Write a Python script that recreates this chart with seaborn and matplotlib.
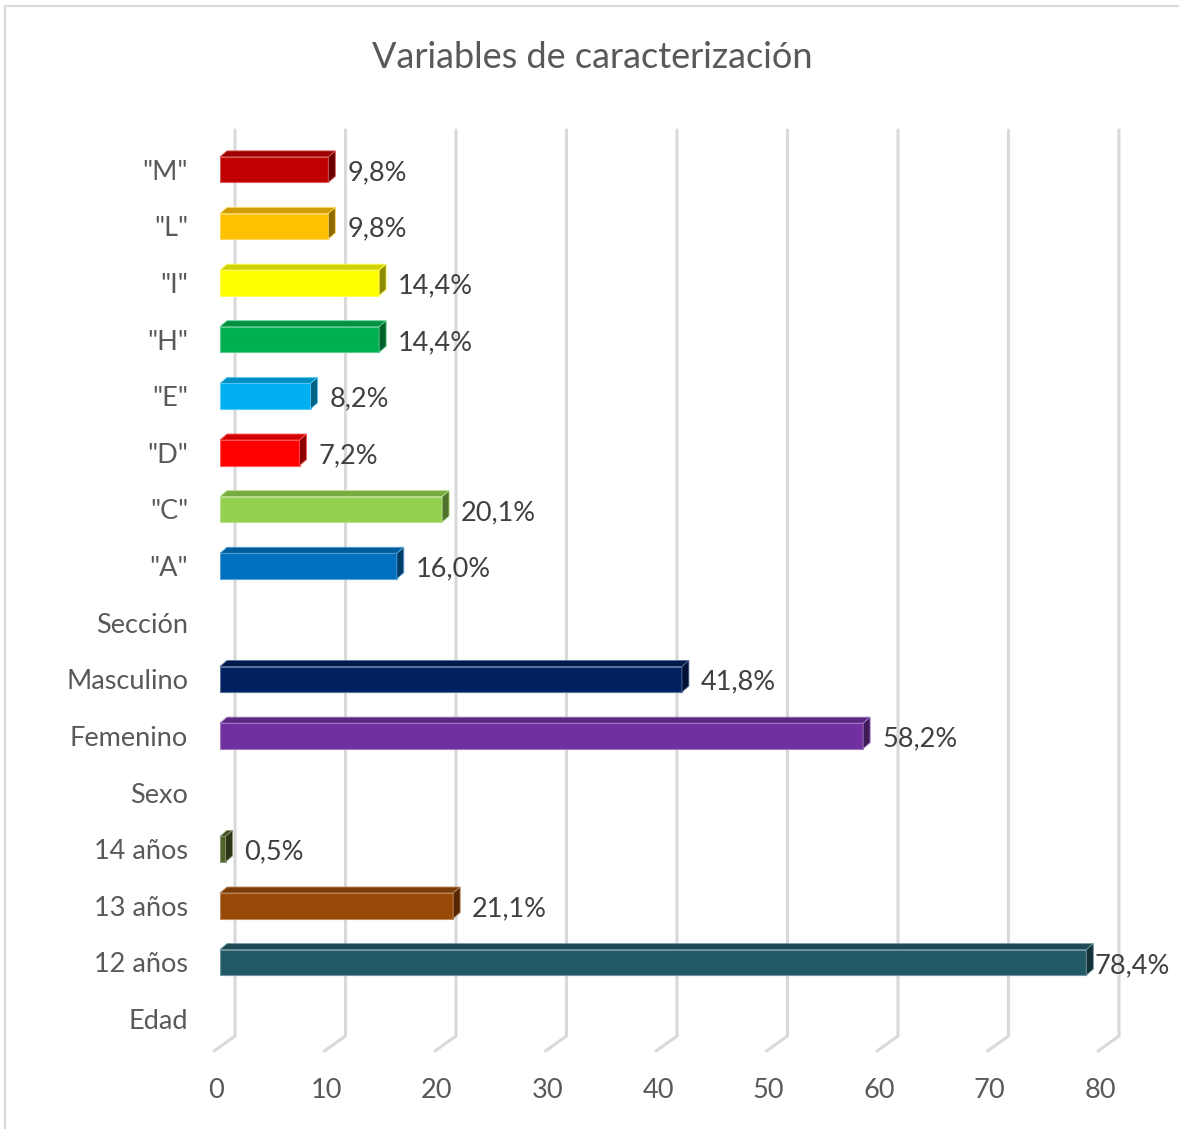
import numpy as np
import pandas as pd
import matplotlib
matplotlib.use("Agg")
import matplotlib.pyplot as plt
import matplotlib.colors as mcolors
import matplotlib.transforms as mtransforms
from matplotlib.patches import Polygon
from matplotlib.lines import Line2D
import seaborn as sns

# ---------------- data ----------------
categories = ['"M"', '"L"', '"I"', '"H"', '"E"', '"D"', '"C"', '"A"', 'Sección',
              'Masculino', 'Femenino', 'Sexo', '14 años', '13 años', '12 años', 'Edad']
bar_categories = ['"M"', '"L"', '"I"', '"H"', '"E"', '"D"', '"C"', '"A"',
                  'Masculino', 'Femenino', '14 años', '13 años', '12 años']
values = [9.8, 9.8, 14.4, 14.4, 8.2, 7.2, 20.1, 16.0, 41.8, 58.2, 0.5, 21.1, 78.4]
labels = ["9,8%", "9,8%", "14,4%", "14,4%", "8,2%", "7,2%", "20,1%", "16,0%",
          "41,8%", "58,2%", "0,5%", "21,1%", "78,4%"]
colors = ["#C00000", "#FFC000", "#FFFF00", "#00B050", "#00B0F0", "#FF0000", "#92D050",
          "#0070C0", "#002060", "#7030A0", "#4F6228", "#984807", "#215967"]
xticks = [0, 10, 20, 30, 40, 50, 60, 70, 80]
title = "Variables de caracterización"

df = pd.DataFrame({"cat": bar_categories, "val": values})

# ---------------- figure ----------------
sns.set_theme(style="white")
plt.rcParams["font.family"] = ["Lato", "DejaVu Sans"]

W, H = 1179, 1129
fig = plt.figure(figsize=(W / 100, H / 100), dpi=100)
left, right, top, bottom = 220, 1104, 130, 1036
ax = fig.add_axes([left / W, 1 - bottom / H, (right - left) / W, (bottom - top) / H])
ax.patch.set_alpha(0)

sns.barplot(data=df, y="cat", x="val", order=categories, hue="cat",
            hue_order=bar_categories, palette=colors, legend=False,
            orient="h", width=0.45, saturation=1, ax=ax, zorder=3)

ax.set_xlim(0, 80)
ax.set_ylim(len(categories) - 0.7, -0.7)
for s in ax.spines.values():
    s.set_visible(False)
ax.set_xlabel("")
ax.set_ylabel("")
ax.set_xticks(xticks)
ax.set_xticklabels([str(t) for t in xticks])
ax.tick_params(axis="x", length=0, pad=30, labelsize=19.5, labelcolor="#595959")
ax.tick_params(axis="y", length=0, pad=23, labelsize=19.5, labelcolor="#595959")
shift = mtransforms.ScaledTranslation(-4 / 100, 0, fig.dpi_scale_trans)
for lab in ax.get_xticklabels():
    lab.set_transform(lab.get_transform() + shift)
ax.grid(False)

to_fig = fig.transFigure.inverted()

def fig_pts(pts):
    return to_fig.transform(np.array(pts, dtype=float))

# gridlines with 3D floor stub (behind the axes content)
gx, gstub_dx, gstub_dy = 15, -21, -15
for t in xticks:
    xd, yb = ax.transData.transform((t, ax.get_ylim()[0]))
    _, yt = ax.transData.transform((t, ax.get_ylim()[1]))
    pts = fig_pts([(xd + gx, yt), (xd + gx, yb), (xd + gx + gstub_dx, yb + gstub_dy)])
    fig.add_artist(Line2D(pts[:, 0], pts[:, 1], color="#D9D9D9", lw=2.2, zorder=-1,
                          solid_joinstyle="miter"))

# 3D faces on bars
dx, dy = 7, 6
patches = [p for p in ax.patches if p.get_width() > 0 or p.get_height() > 0]
for p in patches:
    x0, y0 = p.get_x(), p.get_y()
    w, h = p.get_width(), p.get_height()
    (X0, Y0) = ax.transData.transform((x0, y0 + h))   # bottom-left in display
    (X1, Y1) = ax.transData.transform((x0 + w, y0))   # top-right in display
    base = np.array(mcolors.to_rgb(p.get_facecolor()))
    topc = base * 0.82
    sidec = base * 0.55
    edge = tuple(np.clip(base + (1 - base) * 0.35, 0, 1))
    p.set_edgecolor(edge)
    p.set_linewidth(0.8)
    topface = fig_pts([(X0, Y1), (X1, Y1), (X1 + dx, Y1 + dy), (X0 + dx, Y1 + dy)])
    side = fig_pts([(X1, Y0), (X1, Y1), (X1 + dx, Y1 + dy), (X1 + dx, Y0 + dy)])
    fig.add_artist(Polygon(topface, closed=True, facecolor=topc, edgecolor=edge, lw=0.6, zorder=4))
    fig.add_artist(Polygon(side, closed=True, facecolor=sidec, edgecolor=edge, lw=0.6, zorder=4))

# data labels (kept inside the figure like Excel does)
renderer = fig.canvas.get_renderer()
for cat, v, lab in zip(bar_categories, values, labels):
    yi = categories.index(cat)
    X, Y = ax.transData.transform((v, yi))
    fx, fy = fig_pts([(X + 19, Y - 3)])[0]
    txt = fig.text(fx, fy, lab, fontsize=19.5, color="#404040", ha="left", va="center", zorder=5)
    bb = txt.get_window_extent(renderer)
    if bb.x1 > W - 9:
        nx = X + 19 - (bb.x1 - (W - 9))
        txt.set_x(fig_pts([(nx, Y)])[0][0])

# title
fig.text(592 / W, 1 - 57 / H, title, fontsize=26, color="#595959", ha="center", va="center")

# chart border (top & left visible)
fig.add_artist(Line2D([5 / W, 5 / W], [0, 1 - 6 / H], color="#D9D9D9", lw=1.5))
fig.add_artist(Line2D([5 / W, 1], [1 - 6 / H, 1 - 6 / H], color="#D9D9D9", lw=1.5))

fig.savefig("out.png", dpi=100)
